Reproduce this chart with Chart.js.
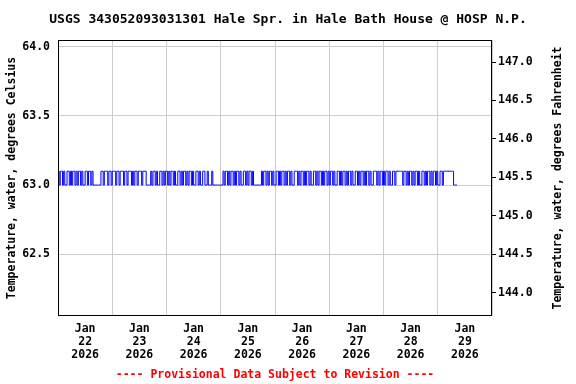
<!DOCTYPE html>
<html>
<head>
<meta charset="utf-8">
<script src="https://cdn.jsdelivr.net/npm/chart.js@4"></script>
<style>
  html, body { margin: 0; padding: 0; background: #fff; }
  #wrap { width: 576px; height: 384px; }
</style>
</head>
<body>
<div id="wrap"><canvas id="chart"></canvas></div>
<script>
// Half-hourly readings starting Jan 22 2026 00:00, '1' = 63.1 C, '0' = 63.0 C
const readingBits = [
    '10110100110101101011010011011010', '000000',
    '1101110110111011011101101110101101110111', '0000',
    '101101001101011010110100110101101011010011', '01001100100010', '00000000',
    '1011010110101101001101011010', '000000',
    '1011010110', '1001101011', '0101101001', '1101011010', '1101001101', '0110101101',
    '0110100110', '1011010110', '1001101011', '0101101001', '1101011010', '11010011',
    '0111111011',
    '0101101011', '0100110101', '1010110100', '1101',
    '11111111', '0000'
].join('');
const lowValue = 63.0;
const highValue = 63.1;

const dayLabels = ['22', '23', '24', '25', '26', '27', '28', '29'];
const celsiusTicks = [62.5, 63.0, 63.5, 64.0];
const fahrenheitTicks = [144.0, 144.5, 145.0, 145.5, 146.0, 146.5, 147.0];
const celsiusMin = 62.054;
const celsiusMax = 64.048;

const points = readingBits.split('').map((b, i) => ({
    x: i / 2,
    y: b === '1' ? highValue : lowValue
}));

const toF = c => c * 1.8 + 32;
const font = { family: 'DejaVu Sans Mono', weight: 'bold', size: 11.5 };

// black box round the plot, and the right axis title read bottom to top
const framePlugin = {
    id: 'frame',
    afterDatasetsDraw(chart) {
        const a = chart.chartArea;
        const ctx = chart.ctx;
        ctx.save();
        ctx.strokeStyle = '#000';
        ctx.lineWidth = 1;
        ctx.strokeRect(Math.round(a.left) + 0.5, Math.round(a.top) + 0.5,
            Math.round(a.right - a.left) - 1, Math.round(a.bottom - a.top) - 1);

        ctx.translate(558, (a.top + a.bottom) / 2);
        ctx.rotate(-Math.PI / 2);
        ctx.fillStyle = '#000';
        ctx.font = 'bold 11.5px "DejaVu Sans Mono"';
        ctx.textAlign = 'center';
        ctx.textBaseline = 'middle';
        ctx.fillText('Temperature, water, degrees Fahrenheit', 0, 0);
        ctx.restore();
    }
};

new Chart(document.getElementById('chart').getContext('2d'), {
    type: 'line',
    data: {
        datasets: [{
            data: points,
            borderColor: '#0000ff',
            borderWidth: 1,
            pointRadius: 0,
            stepped: true,
            yAxisID: 'y'
        }]
    },
    options: {
        responsive: true,
        maintainAspectRatio: false,
        animation: false,
        layout: { padding: 0 },
        plugins: {
            legend: { display: false },
            tooltip: { enabled: false },
            title: {
                display: true,
                text: 'USGS 343052093031301 Hale Spr. in Hale Bath House @ HOSP N.P.',
                color: '#000',
                font: { family: 'DejaVu Sans Mono', weight: 'bold', size: 13, lineHeight: 1.2 },
                padding: { top: 12, bottom: 12.4 }
            }
        },
        scales: {
            x: {
                type: 'linear',
                min: 0,
                max: 192,
                afterBuildTicks: scale => {
                    const t = [];
                    for (let h = 0; h <= 192; h += 12) t.push({ value: h });
                    scale.ticks = t;
                },
                afterFit: scale => { scale.height = 68; },
                grid: {
                    color: ctx => (ctx.tick && ctx.tick.value % 24 === 0) ? '#cccccc' : 'rgba(0,0,0,0)',
                    drawTicks: false
                },
                border: { display: false },
                ticks: {
                    autoSkip: false,
                    maxRotation: 0,
                    padding: 7,
                    color: '#000',
                    font: Object.assign({}, font, { lineHeight: 1.13 }),
                    callback: v => (v % 24 === 12) ? ['Jan', dayLabels[(v - 12) / 24], '2026'] : ''
                },
                title: {
                    display: true,
                    text: '---- Provisional Data Subject to Revision ----',
                    color: '#ff0000',
                    font: font,
                    padding: { top: 0, bottom: 2 }
                }
            },
            y: {
                position: 'left',
                min: celsiusMin,
                max: celsiusMax,
                afterBuildTicks: scale => { scale.ticks = celsiusTicks.map(v => ({ value: v })); },
                afterFit: scale => { scale.width = 58; },
                grid: { color: '#cccccc', drawTicks: false },
                border: { display: false },
                ticks: {
                    padding: 8,
                    color: '#000',
                    font: font,
                    callback: v => v.toFixed(1)
                },
                title: {
                    display: true,
                    text: 'Temperature, water, degrees Celsius',
                    color: '#000',
                    font: font,
                    padding: { top: 5, bottom: 0 }
                }
            },
            y2: {
                position: 'right',
                min: toF(celsiusMin),
                max: toF(celsiusMax),
                afterBuildTicks: scale => { scale.ticks = fahrenheitTicks.map(v => ({ value: v })); },
                afterFit: scale => { scale.width = 84; },
                grid: { drawOnChartArea: false, drawTicks: true, tickLength: 4, tickColor: '#000' },
                border: { display: false },
                ticks: {
                    padding: 2,
                    color: '#000',
                    font: font,
                    callback: v => v.toFixed(1)
                },
                title: { display: false }
            }
        }
    },
    plugins: [framePlugin]
});
</script>
</body>
</html>
